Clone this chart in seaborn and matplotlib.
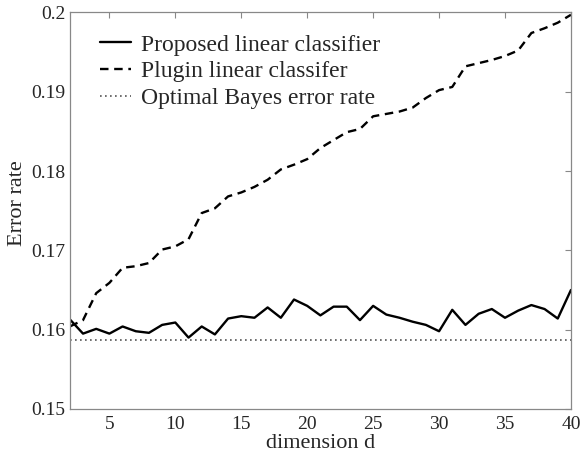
import numpy as np
import pandas as pd
import matplotlib
matplotlib.use("Agg")
import matplotlib.pyplot as plt
import seaborn as sns

dims = list(range(2, 41))
proposed = [0.1613, 0.1595, 0.1601, 0.1595, 0.1604, 0.1598, 0.1596, 0.1606, 0.1609, 0.1590,
            0.1604, 0.1594, 0.1614, 0.1617, 0.1615, 0.1628, 0.1615, 0.1638, 0.1630, 0.1618,
            0.1629, 0.1629, 0.1612, 0.1630, 0.1619, 0.1615, 0.1610, 0.1606, 0.1598, 0.1625,
            0.1606, 0.1620, 0.1626, 0.1615, 0.1624, 0.1631, 0.1626, 0.1614, 0.1650]
plugin = [0.1604, 0.1612, 0.1646, 0.1659, 0.1678, 0.1680, 0.1684, 0.1701, 0.1705, 0.1714,
          0.1747, 0.1753, 0.1768, 0.1773, 0.1780, 0.1789, 0.1802, 0.1808, 0.1815, 0.1829,
          0.1839, 0.1849, 0.1853, 0.1869, 0.1872, 0.1875, 0.1880, 0.1892, 0.1902, 0.1906,
          0.1932, 0.1936, 0.1940, 0.1945, 0.1952, 0.1974, 0.1980, 0.1987, 0.1997]
bayes = [0.1587] * len(dims)
labels = ["Proposed linear classifier", "Plugin linear classifer", "Optimal Bayes error rate"]

sns.set_style("white")
plt.rcParams['font.family'] = ['Liberation Serif', 'DejaVu Serif']

fig = plt.figure(figsize=(5.82, 4.59), dpi=100)
ax = fig.add_axes([0.120, 0.109, 0.861, 0.864])

sns.lineplot(x=dims, y=proposed, ax=ax, color="black", linewidth=1.7, linestyle="-", label=labels[0])
sns.lineplot(x=dims, y=plugin, ax=ax, color="black", linewidth=1.7, linestyle=(0, (3.6, 2.4)), label=labels[1])
sns.lineplot(x=dims, y=bayes, ax=ax, color="#555555", linewidth=1.2, linestyle=(0, (1, 2)), label=labels[2])

ax.set_xlim(2, 40)
ax.set_ylim(0.15, 0.2)
ax.set_xticks([5, 10, 15, 20, 25, 30, 35, 40])
ax.set_yticks([0.15, 0.16, 0.17, 0.18, 0.19, 0.2])
ax.set_yticklabels(["0.15", "0.16", "0.17", "0.18", "0.19", "0.2"])
ax.tick_params(direction="in", top=True, right=True, length=4, labelsize=14, color="#888888",
               width=0.8, pad=3)
ax.tick_params(axis="x", pad=5)
for s in ax.spines.values():
    s.set_color("#888888")
    s.set_linewidth(0.9)
ax.set_xlabel("dimension d", fontsize=16, labelpad=1)
ax.set_ylabel("Error rate", fontsize=16)
ax.yaxis.set_label_coords(-0.086, 0.52)

leg = ax.legend(loc="upper left", frameon=False, fontsize=17, handlelength=1.3,
                handletextpad=0.45, bbox_to_anchor=(0.06, 0.945), labelspacing=0.22,
                borderaxespad=0, borderpad=0)

fig.savefig("out.png", dpi=100)
